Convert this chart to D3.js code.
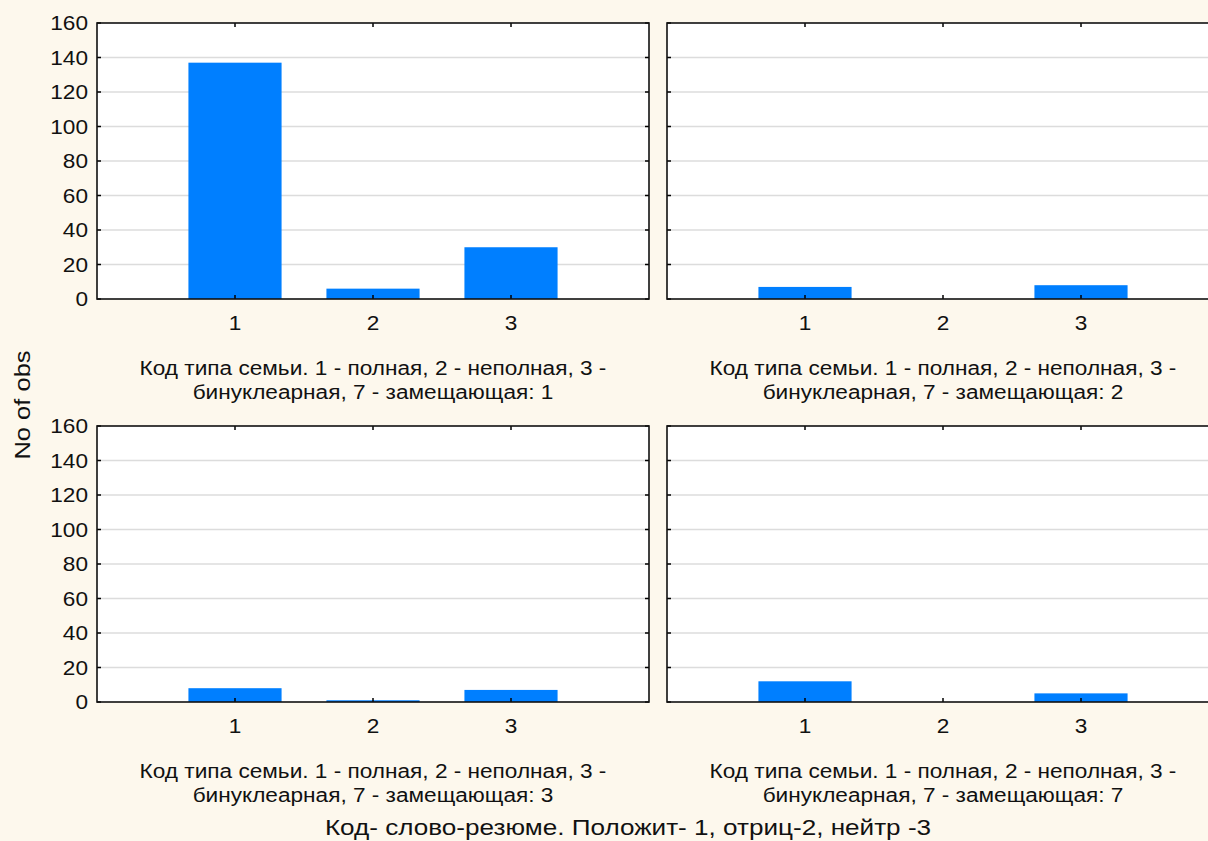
<!DOCTYPE html>
<html><head><meta charset="utf-8">
<script src="https://cdn.jsdelivr.net/npm/d3@7"></script>
<style>
html,body{margin:0;padding:0;background:#fdf8ed;}
svg{display:block;font-family:"Liberation Sans",Arial,sans-serif;}
</style></head>
<body>
<script>
const categories = [1, 2, 3];
const panelTitles = ["1", "2", "3", "7"];
const valuesP1 = [137, 6, 30];
const valuesP2 = [7, 0, 8];
const valuesP3 = [8, 1, 7];
const valuesP7 = [12, 0, 5];
const yTicks = [0, 20, 40, 60, 80, 100, 120, 140, 160];
const subtitleLine1 = "Код типа семьи. 1 - полная, 2 - неполная, 3 -";
const subtitleLine2 = "бинуклеарная, 7 - замещающая: ";
const yLabel = "No of obs";
const xTitle = "Код- слово-резюме. Положит- 1, отриц-2, нейтр -3";

const W = 1208, H = 841;
const SX = 1.16;
const svg = d3.select("body").append("svg").attr("width", W).attr("height", H);
svg.append("rect").attr("width", W).attr("height", H).attr("fill", "#fdf8ed");

function stext(parent, x, y, str, size, anchor, rot) {
  const g = parent.append("g").attr("transform", `translate(${x},${y})` + (rot ? ` rotate(${rot})` : "") + ` scale(${SX},1)`);
  g.append("text").attr("text-anchor", anchor).attr("font-size", size).attr("fill", "#111").text(str);
  return g;
}

const panels = [
  {vals: valuesP1, title: panelTitles[0], x0: 97, y0: 23},
  {vals: valuesP2, title: panelTitles[1], x0: 667, y0: 23},
  {vals: valuesP3, title: panelTitles[2], x0: 97, y0: 426},
  {vals: valuesP7, title: panelTitles[3], x0: 667, y0: 426}
];
const pw = 552, ph = 276;

panels.forEach((p, i) => {
  const g = svg.append("g").attr("transform", `translate(${p.x0},${p.y0})`);
  const x = d3.scaleLinear().domain([0, 4]).range([0, pw]);
  const y = d3.scaleLinear().domain([0, 160]).range([ph, 0]);
  g.append("rect").attr("width", pw).attr("height", ph).attr("fill", "#fff");
  g.selectAll(".grid").data(yTicks.filter(t => t > 0 && t < 160)).enter().append("line")
    .attr("x1", 0).attr("x2", pw).attr("y1", d => y(d)).attr("y2", d => y(d))
    .attr("stroke", "#dcdcdc").attr("stroke-width", 1.3);
  const bw = (x(1) - x(0)) * 0.675;
  g.selectAll(".bar").data(categories).enter().append("rect")
    .attr("x", (d) => x(d) - bw / 2)
    .attr("y", (d, j) => y(p.vals[j]))
    .attr("width", bw)
    .attr("height", (d, j) => ph - y(p.vals[j]))
    .attr("fill", "#007fff");
  g.selectAll(".yt").data(yTicks).enter().append("line")
    .attr("x1", 0).attr("x2", 4).attr("y1", d => y(d)).attr("y2", d => y(d)).attr("stroke", "#000").attr("stroke-width", 1.5);
  g.selectAll(".yt2").data(yTicks).enter().append("line")
    .attr("x1", pw).attr("x2", pw - 4).attr("y1", d => y(d)).attr("y2", d => y(d)).attr("stroke", "#000").attr("stroke-width", 1.5);
  g.selectAll(".xt").data(categories).enter().append("line")
    .attr("x1", d => x(d)).attr("x2", d => x(d)).attr("y1", ph).attr("y2", ph - 4).attr("stroke", "#000").attr("stroke-width", 1.5);
  g.selectAll(".xt2").data(categories).enter().append("line")
    .attr("x1", d => x(d)).attr("x2", d => x(d)).attr("y1", 0).attr("y2", 4).attr("stroke", "#000").attr("stroke-width", 1.5);
  g.append("rect").attr("width", pw).attr("height", ph).attr("fill", "none").attr("stroke", "#111").attr("stroke-width", 1.6);
  if (i % 2 === 0) {
    yTicks.forEach(t => stext(g, -9, y(t) + 7, String(t), 19.5, "end"));
  }
  categories.forEach(c => stext(g, x(c), ph + 31, d3.format("d")(c), 19.5, "middle"));
  const cx = pw / 2;
  stext(g, cx, ph + 76, subtitleLine1, 19.5, "middle");
  stext(g, cx, ph + 100, subtitleLine2 + p.title, 19.5, "middle");
});

stext(svg, 30, 405, yLabel, 22, "middle", -90);
stext(svg, 628, 835, xTitle, 22.5, "middle");
</script>
</body></html>
